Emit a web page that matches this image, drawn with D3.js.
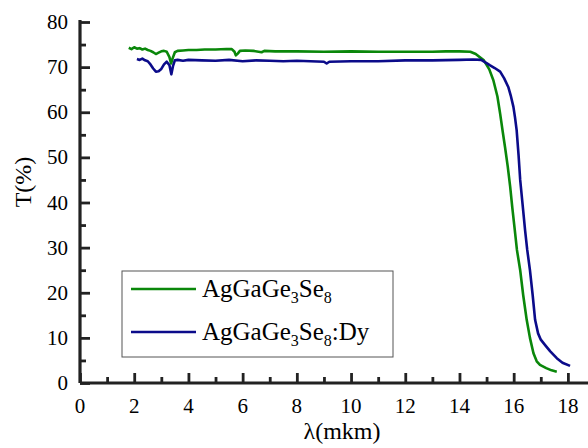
<!DOCTYPE html>
<html><head><meta charset="utf-8">
<script src="https://cdn.jsdelivr.net/npm/d3@7"></script>
<style>body{margin:0;background:#fff}svg{display:block}</style>
</head><body><div id="c"></div>
<script>
const xTicks=[0,2,4,6,8,10,12,14,16,18];
const yTicks=[0,10,20,30,40,50,60,70,80];
const greenLambda=[1.80,1.9,2.0,2.1,2.2,2.3,2.4,2.5,2.6,2.7,2.8,2.9,3.0,3.1,3.2,3.3,3.36,3.42,3.5,3.6,3.8,4.0,4.3,4.6,5.0,5.4,5.6,5.7,5.75,5.82,5.9,6.1,6.4,6.7,6.8,7.2,8,9,10,11,12,13,13.5,14,14.4,14.6,14.9,15.1,15.25,15.4,15.5,15.6,15.68,15.78,15.87,15.95,16.03,16.12,16.24,16.35,16.48,16.6,16.73,16.85,16.97,17.2,17.4,17.59];
const greenT=[74.3,74.0,74.4,74.1,74.2,73.9,74.1,73.8,73.6,73.3,72.9,73.2,73.5,73.6,73.4,72.2,70.8,72.0,73.3,73.6,73.7,73.8,73.8,73.9,73.9,74.0,74.0,73.4,72.6,73.0,73.6,73.7,73.6,73.3,73.6,73.5,73.5,73.4,73.5,73.4,73.4,73.4,73.5,73.5,73.4,72.9,71.5,69.5,67.1,63.5,59.7,55.5,52.3,48,43.5,38.8,34.5,29.5,25.0,19.5,14.0,10,6.6,4.8,4.0,3.3,2.8,2.5];
const blueLambda=[2.1,2.2,2.3,2.4,2.5,2.6,2.7,2.8,2.9,3.0,3.1,3.2,3.3,3.37,3.43,3.5,3.6,3.8,4.0,4.5,5,5.5,6.0,6.5,7,7.5,8,8.5,9.0,9.1,9.2,10,11,12,13,14,14.5,14.8,15.0,15.13,15.3,15.5,15.65,15.8,15.9,15.99,16.05,16.11,16.18,16.24,16.33,16.42,16.5,16.6,16.7,16.79,16.9,17.0,17.16,17.35,17.59,17.8,18.08];
const blueT=[71.8,71.6,71.9,71.5,71.3,70.6,69.7,69.0,69.1,69.6,70.6,71.2,70.4,68.4,70.2,71.5,71.6,71.4,71.6,71.5,71.4,71.6,71.3,71.5,71.4,71.3,71.4,71.3,71.2,70.8,71.2,71.3,71.3,71.5,71.5,71.6,71.7,71.6,70.9,70.4,69.8,69.0,67.5,65.6,63.5,61.2,58.8,56.0,50.5,45.0,39.5,33.9,29.5,25.0,19.5,14.0,11,9.6,8.4,7.0,5.5,4.5,3.8];
const colors=["#0a870a","#0b0b8a"];

const W=588,H=448;
const svg=d3.select("#c").append("svg").attr("width",W).attr("height",H).style("font-family","'Liberation Serif', serif");
const x=d3.scaleLinear().domain([0,19]).range([80,595]);
const y=d3.scaleLinear().domain([0,80]).range([383,22]);

function txt(px,py,size,s){
  return svg.append("text").attr("x",px).attr("y",py).attr("font-size",size).style("font-family","'Liberation Serif'").text(s);
}
// tick labels (positions from scales)
xTicks.forEach(v=>txt(x(v),413,21,String(v)).attr("text-anchor","middle"));
yTicks.forEach(v=>txt(68,y(v)+7,21,String(v)).attr("text-anchor","end"));
txt(342,439,24,"λ(mkm)").attr("text-anchor","middle");
txt(0,0,24,"T(%)").attr("text-anchor","middle").attr("x",null).attr("y",null).attr("transform","translate(31,182) rotate(-90)");

const line=d3.line().x(d=>x(d[0])).y(d=>y(d[1]));
const gData=greenLambda.map((l,i)=>[l,greenT[i]]);
const bData=blueLambda.map((l,i)=>[l,blueT[i]]);
svg.append("path").datum(gData).attr("d",line).attr("fill","none").attr("stroke",colors[0]).attr("stroke-width",2.6).attr("stroke-linejoin","round");
svg.append("path").datum(bData).attr("d",line).attr("fill","none").attr("stroke",colors[1]).attr("stroke-width",2.6).attr("stroke-linejoin","round");

const xAxis=d3.axisBottom(x).tickValues(xTicks).tickSize(-10).tickFormat("");
const gx=svg.append("g").attr("transform","translate(0,383)").call(xAxis);
const xMinor=d3.axisBottom(x).tickValues(d3.range(1,19,2)).tickSize(-6).tickFormat("");
svg.append("g").attr("transform","translate(0,383)").call(xMinor).select(".domain").remove();
const yAxis=d3.axisLeft(y).tickValues(yTicks).tickSize(-10).tickFormat("");
const gy=svg.append("g").attr("transform","translate(80,0)").call(yAxis);
const yMinor=d3.axisLeft(y).tickValues(d3.range(5,80,10)).tickSize(-6).tickFormat("");
svg.append("g").attr("transform","translate(80,0)").call(yMinor).select(".domain").remove();
svg.selectAll(".tick text").remove();
svg.selectAll(".domain").attr("stroke","#222").attr("stroke-width",3.2);
svg.selectAll(".tick line").attr("stroke","#222").attr("stroke-width",2.8);
gx.selectAll(".domain").attr("d","M80,0H595");
gy.selectAll(".domain").attr("d","M0,383V20");

// legend
svg.append("rect").attr("x",122).attr("y",271).attr("width",271).attr("height",86).attr("fill","#fff").attr("stroke","#555").attr("stroke-width",1);
[[289,0],[332,1]].forEach(([yy,i])=>{
  svg.append("line").attr("x1",131).attr("x2",196).attr("y1",yy).attr("y2",yy).attr("stroke",colors[i]).attr("stroke-width",2.6);
  const t=txt(202,yy+8,25,null);
  t.append("tspan").text("AgGaGe");
  t.append("tspan").attr("font-size",16).attr("dy",6).text("3");
  t.append("tspan").attr("dy",-6).text("Se");
  t.append("tspan").attr("font-size",16).attr("dy",6).text("8");
  if(i===1){t.append("tspan").attr("dy",-6).text(":Dy");}
});
</script></body></html>
